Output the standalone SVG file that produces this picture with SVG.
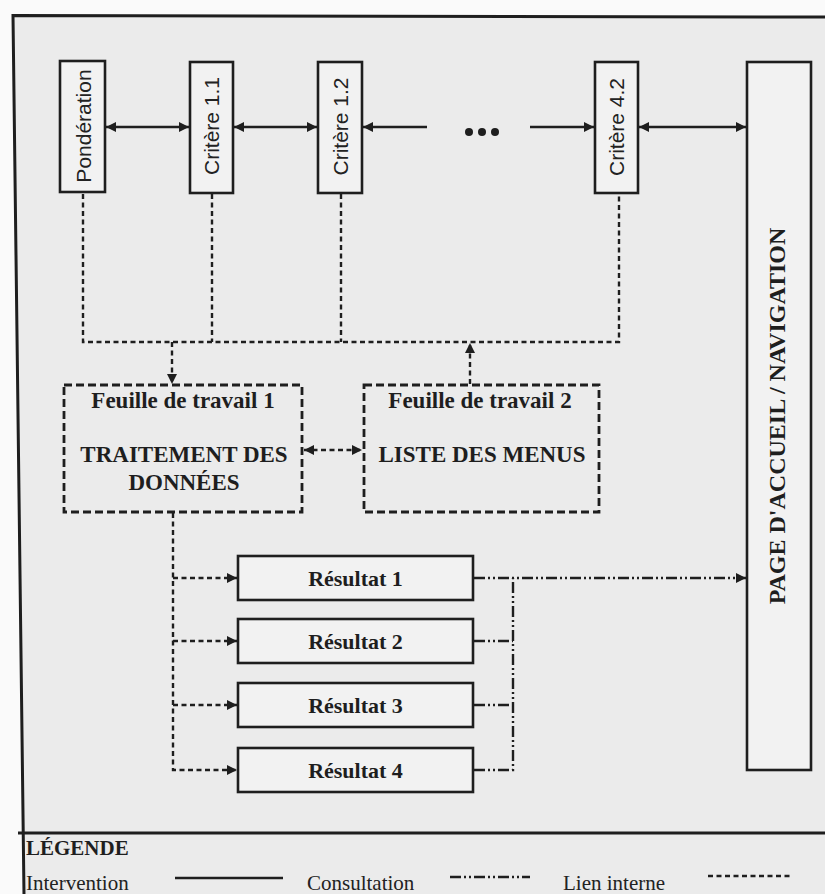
<svg xmlns="http://www.w3.org/2000/svg" width="825" height="894" viewBox="0 0 825 894">
<style>
.solid{fill:#f2f2f2;stroke:#1e1e1e;stroke-width:2.6}
.dbox{fill:none;stroke:#1e1e1e;stroke-width:2.8;stroke-dasharray:8 4}
.inter{fill:none;stroke:#1e1e1e;stroke-width:2.4}
.lien{fill:none;stroke:#1e1e1e;stroke-width:2.4;stroke-dasharray:5 3.5}
.consult{fill:none;stroke:#1e1e1e;stroke-width:2.4;stroke-dasharray:11 3 2 3 2 3}
.sans{font-family:"Liberation Sans",Arial,sans-serif;font-size:21px;fill:#222}
.serifb{font-family:"Liberation Serif","Times New Roman",serif;font-weight:bold;fill:#1e1e1e}
.serif{font-family:"Liberation Serif","Times New Roman",serif;font-size:21px;fill:#222}
</style>
<defs>
<marker id="ah" viewBox="0 0 10 10" refX="10" refY="5" markerWidth="12" markerHeight="10" markerUnits="userSpaceOnUse" orient="auto-start-reverse">
<path d="M0,0 L10,5 L0,10 z" fill="#1e1e1e"/>
</marker>
</defs>
<rect x="0" y="0" width="825" height="894" fill="#fafafa"/>
<polygon points="13,16 825,17 825,894 24,894" fill="#ebebeb"/>
<g id="frame" fill="none" stroke="#1e1e1e">
<polyline points="825,17 13,15.5 24,894" stroke-width="3"/>
<line x1="18" y1="833" x2="825" y2="833" stroke-width="3"/>
</g>

<g id="connectors">
<line class="inter" x1="106" y1="127" x2="189" y2="127" marker-start="url(#ah)" marker-end="url(#ah)"/>
<line class="inter" x1="234" y1="127" x2="317" y2="127" marker-start="url(#ah)" marker-end="url(#ah)"/>
<line class="inter" x1="363" y1="127" x2="427" y2="127" marker-start="url(#ah)"/>
<line class="inter" x1="530" y1="127" x2="594" y2="127" marker-end="url(#ah)"/>
<line class="inter" x1="639" y1="127" x2="746" y2="127" marker-start="url(#ah)" marker-end="url(#ah)"/>
<polyline class="lien" points="83,194 83,342 619,342 619,194"/>
<line class="lien" x1="212" y1="194" x2="212" y2="342"/>
<line class="lien" x1="341" y1="194" x2="341" y2="342"/>
<line class="lien" x1="172" y1="342" x2="172" y2="384" marker-end="url(#ah)"/>
<line class="lien" x1="470" y1="384" x2="470" y2="343" marker-end="url(#ah)"/>
<line class="lien" x1="304" y1="450" x2="362" y2="450" marker-start="url(#ah)" marker-end="url(#ah)"/>
<polyline class="lien" points="173,513 173,770 237,770" marker-end="url(#ah)"/>
<line class="lien" x1="173" y1="578" x2="237" y2="578" marker-end="url(#ah)"/>
<line class="lien" x1="173" y1="641" x2="237" y2="641" marker-end="url(#ah)"/>
<line class="lien" x1="173" y1="705" x2="237" y2="705" marker-end="url(#ah)"/>
<line class="consult" x1="474" y1="578" x2="746" y2="578" marker-end="url(#ah)"/>
<polyline class="consult" points="474,770 513,770 513,578"/>
<line class="consult" x1="474" y1="641" x2="513" y2="641"/>
<line class="consult" x1="474" y1="705" x2="513" y2="705"/>
</g>

<g id="ellipsis" fill="#1e1e1e">
<circle cx="469" cy="132" r="4"/>
<circle cx="482" cy="132" r="4"/>
<circle cx="495" cy="132" r="4"/>
</g>

<g id="ponderation">
<rect class="solid" x="60" y="61" width="45" height="131"/>
<text class="sans" transform="translate(83,126) rotate(-90)" text-anchor="middle" dy="0.36em">Pondération</text>
</g>
<g id="critere11">
<rect class="solid" x="190" y="62" width="43" height="131"/>
<text class="sans" transform="translate(211.5,126) rotate(-90)" text-anchor="middle" dy="0.36em">Critère 1.1</text>
</g>
<g id="critere12">
<rect class="solid" x="318" y="62" width="44" height="131"/>
<text class="sans" transform="translate(340,126.5) rotate(-90)" text-anchor="middle" dy="0.36em">Critère 1.2</text>
</g>
<g id="critere42">
<rect class="solid" x="595" y="62" width="43" height="131"/>
<text class="sans" transform="translate(616.5,127) rotate(-90)" text-anchor="middle" dy="0.36em">Critère 4.2</text>
</g>
<g id="page">
<rect class="solid" x="747" y="62" width="64" height="708"/>
<text class="serifb" font-size="24" transform="translate(777,416) rotate(-90)" text-anchor="middle" dy="0.35em">PAGE D'ACCUEIL / NAVIGATION</text>
</g>
<g id="feuille1">
<rect class="dbox" x="64" y="385" width="238" height="127"/>
<text class="serifb" font-size="23" x="183" y="408" text-anchor="middle">Feuille de travail 1</text>
<text class="serifb" font-size="23" x="184" y="462" text-anchor="middle">TRAITEMENT DES</text>
<text class="serifb" font-size="23" x="184" y="490" text-anchor="middle">DONNÉES</text>
</g>
<g id="feuille2">
<rect class="dbox" x="364" y="385" width="235" height="127"/>
<text class="serifb" font-size="23" x="480" y="408" text-anchor="middle">Feuille de travail 2</text>
<text class="serifb" font-size="23" x="482" y="462" text-anchor="middle">LISTE DES MENUS</text>
</g>
<g id="resultat1">
<rect class="solid" x="238" y="556" width="235" height="44"/>
<text class="serifb" font-size="22" x="355.5" y="586" text-anchor="middle">Résultat 1</text>
</g>
<g id="resultat2">
<rect class="solid" x="238" y="619" width="235" height="44"/>
<text class="serifb" font-size="22" x="355.5" y="649" text-anchor="middle">Résultat 2</text>
</g>
<g id="resultat3">
<rect class="solid" x="238" y="683" width="235" height="44"/>
<text class="serifb" font-size="22" x="355.5" y="713" text-anchor="middle">Résultat 3</text>
</g>
<g id="resultat4">
<rect class="solid" x="238" y="748" width="235" height="44"/>
<text class="serifb" font-size="22" x="355.5" y="778" text-anchor="middle">Résultat 4</text>
</g>

<g id="legend">
<text class="serifb" font-size="21" x="26" y="855">LÉGENDE</text>
<text class="serif" x="26" y="890">Intervention</text>
<line class="inter" x1="175" y1="878" x2="283" y2="878" stroke-width="2.6"/>
<text class="serif" x="307" y="890">Consultation</text>
<line class="consult" x1="450" y1="877" x2="530" y2="877" stroke-dasharray="10 4 2 3 2 4"/>
<text class="serif" x="563" y="890">Lien interne</text>
<line class="lien" x1="708" y1="876" x2="792" y2="876" stroke-dasharray="4 4"/>
</g>
</svg>
